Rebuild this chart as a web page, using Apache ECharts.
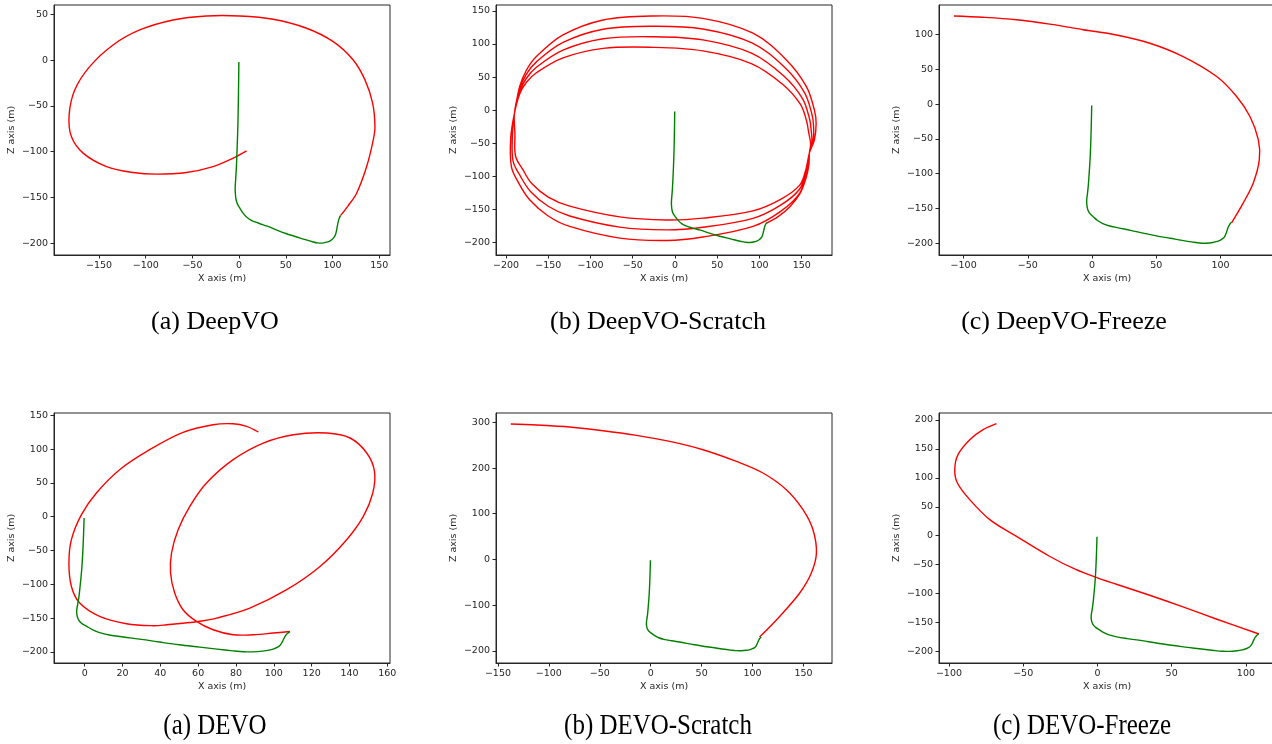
<!DOCTYPE html>
<html>
<head>
<meta charset="utf-8">
<script src="https://cdn.jsdelivr.net/npm/echarts@6/dist/echarts.min.js"></script>
<style>
html, body { margin: 0; padding: 0; background: #fff; }
#main { width: 1272px; height: 744px; }
</style>
</head>
<body>
<div id="main"></div>
<script>
// ground truth, same in every panel  [x, z]
var gtPath = [[-0.3,-2],[-0.5,-20],[-0.9,-48],[-1.3,-68],[-1.7,-83],[-2.3,-100],[-3,-118],[-3.7,-130],[-4.2,-138],
  [-4.1,-145],[-3.5,-151],[-2.6,-155],[-1.2,-158.5],[0.9,-162],[4,-167],[7.9,-171.5],[13,-175],[20.3,-178],
  [30,-181.5],[39.7,-185.5],[50,-189.5],[60.9,-193],[70,-196],[78.5,-198.5],[84,-199.8],[89,-200],[94,-199],
  [97.5,-197.5],[100,-195.5],[102,-193],[103.2,-190.5],[104.3,-186],[105.2,-181],[106.2,-176],[107.3,-172.5],[108.5,-170]];

// (a) DeepVO
var deepvoPath = [[108.5,-170],[116,-160],[125.8,-145.4],[136.5,-116.3],[143.6,-87.1],[145.4,-72.6],[142.9,-47],
  [134.7,-21.5],[122.1,0.3],[100.7,20.3],[72.2,35],[36.4,44.8],[0.75,48.4],[-35,48.4],[-70.7,44],[-106.4,33.1],
  [-135,16.7],[-160,-7],[-176,-32.5],[-182,-59.8],[-179.6,-83.5],[-167,-101.6],[-142,-116.3],[-113.6,-122.8],
  [-88.5,-124.6],[-56.4,-122.8],[-27.9,-116.3],[-6.4,-107.1],[7.9,-99.1]];

// (b) DeepVO-Scratch, four loops
var scratchPath = [[108,-171],[122,-161],[136,-146],[148,-126],[155,-103],[158.5,-82],[159,-65],
  [160.5,-50.7],[158,-32.5],[156,-17.8],[148.5,8.7],[127.3,39.2],[90.3,70.5],[33,89.6],[-26,95],[-85,93.4],
  [-132.5,79],[-164,56.6],[-176,41.8],[-183.8,24.4],[-190,-5],
  [-194.4,-42.3],[-193.6,-85.2],[-185,-110],[-172,-135.5],[-150,-160],[-124.6,-175.8],[-65.4,-193.4],[-10,-197],
  [33,-191.8],[92.3,-175.8],[125,-153],[147.6,-125.4],[155,-95],[159,-65],
  [162,-48.8],[161,-28.3],[159,-11.8],[150.7,17.8],[128.8,51.6],[91.1,85.9],[33,106.2],[-26,111],[-85,107.9],
  [-132.5,90.7],[-164,64.8],[-176,47.9],[-183.8,28.2],[-190,-5],
  [-192.4,-38.5],[-191.6,-77.2],[-183,-99.7],[-171,-122.9],[-150,-145.3],[-124.6,-160],[-65.4,-176.8],[-10,-181],
  [33,-177.1],[92.3,-163.7],[125,-143.7],[147.6,-119.2],[155,-92],[159,-65],
  [163.5,-46.8],[164,-24.1],[162,-5.8],[153.1,26.9],[130.3,64],[91.7,101.4],[33,122.8],[-26,126.9],[-85,122.4],
  [-132.5,102.4],[-164,73],[-176,54.1],[-183.8,32],[-190,-5],
  [-189.4,-35],[-188.6,-69.7],[-180,-90],[-169.5,-111],[-150,-131.5],[-124.6,-145.1],[-65.4,-161.3],[-10,-166],
  [33,-163.2],[92.3,-152.3],[125,-134.9],[147.6,-113.4],[155,-89.1],[159,-65],
  [165,-45],[167,-20],[165,0],[155.5,35.7],[131.8,76],[92.3,116.3],[33,138.8],[-26,142.4],[-85,136.4],
  [-132.5,113.7],[-164,81],[-176,60],[-183.8,35.7],[-190,-5],[-191.5,-15]];

// (c) DeepVO-Freeze
var freezePath = [[108.6,-170.7],[117.7,-142],[125.5,-113.3],[130.2,-79.9],[129.4,-51.2],[122.9,-17.8],[112.5,10.9],
  [97,39.6],[70.9,68.3],[45,87.5],[19,99.4],[-7,107],[-33,115],[-58.9,121.2],[-85,124.8],[-107.6,126.7]];

// (a) DEVO
var devoPath = [[108.5,-169.8],[99.7,-172.2],[89,-174.7],[78.5,-174.7],[67.9,-167.3],[59.1,-155],[52,-137.7],
  [47.6,-113],[45.4,-83.4],[45.9,-53.8],[49.4,-19.2],[55.6,15.3],[64.4,49.8],[78.5,84.4],[94.4,109],[110.3,121.4],
  [128,123.9],[140.3,116.5],[149.1,94.3],[153.2,67.1],[152.3,35.1],[147.3,0.4],[138.5,-34],[124.4,-73.6],
  [106.8,-108],[87.3,-135.2],[69.7,-150],[60,-155],[43.3,-159.9],[36.2,-161.3],[22.1,-158.4],[7.9,-147.5],
  [-2.6,-127.8],[-7,-103.2],[-8.3,-68.5],[-7,-34],[-1.7,3],[6.2,35.1],[18.5,69.6],[34.4,99.2],[52,124.8],
  [67.9,136.2],[78.5,137.6],[85.6,133.7],[91.8,125.4]];

// (b) DEVO-Scratch
var devoScratchPath = [[106.9,-170],[126.6,-124.8],[146.3,-73.6],[157.7,-29.8],[162.7,14],[159.3,65],[149.5,108.8],
  [133.2,152.6],[110.2,189.2],[84.1,214.6],[51.3,240.2],[18.7,258.4],[-14,271.5],[-46.8,281.8],[-79.5,289.9],
  [-112.2,294.3],[-137.4,296.5]];

// (c) DEVO-Freeze
var devoFreezePath = [[108.8,-170],[80,-144],[57.6,-123],[35.2,-103],[12.8,-84],[0,-73],[-15,-58],[-32,-36],
  [-54.5,-1.2],[-72.5,27.7],[-86,62.3],[-94.3,91.1],[-96.1,114.1],[-93.9,140.1],[-86,166],[-77,183.3],[-68,193.7]];

var captions = ['(a) DeepVO', '(b) DeepVO-Scratch', '(c) DeepVO-Freeze', '(a) DEVO', '(b) DEVO-Scratch', '(c) DEVO-Freeze'];

var xTicks = [
  [-150,-100,-50,0,50,100,150],
  [-200,-150,-100,-50,0,50,100,150],
  [-100,-50,0,50,100],
  [0,20,40,60,80,100,120,140,160],
  [-150,-100,-50,0,50,100,150],
  [-100,-50,0,50,100]
];
var zTicks = [
  [-200,-150,-100,-50,0,50],
  [-200,-150,-100,-50,0,50,100,150],
  [-200,-150,-100,-50,0,50,100],
  [-200,-150,-100,-50,0,50,100,150],
  [-200,-100,0,100,200,300],
  [-200,-150,-100,-50,0,50,100,150,200]
];

var panels = [
  {path: deepvoPath,      xr: [-198.2,161.5], zr: [-213,60.4],   left: 54,  top: 5,   cx: 215, cy: 322},
  {path: scratchPath,     xr: [-211.8,185.8], zr: [-219,159],    left: 496, top: 5,   cx: 658, cy: 322},
  {path: freezePath,      xr: [-119.2,142.4], zr: [-217,142.5],  left: 939, top: 5,   cx: 1064, cy: 322},
  {path: devoPath,        xr: [-16.2,161.4],  zr: [-216.5,153.5],left: 54,  top: 413, cx: 215, cy: 726},
  {path: devoScratchPath, xr: [-151.9,178],   zr: [-226.8,320.6],left: 496, top: 413, cx: 658, cy: 726},
  {path: devoFreezePath,  xr: [-106.7,119.6], zr: [-220.1,212.1],left: 939, top: 413, cx: 1082, cy: 726}
];

function fmt(v) {
  return String(v).replace('-', '\u2212');
}

// one smooth polyline per path, placed through the panel's own axes
function trackSeries(i, path, color, z) {
  return {
    type: 'custom', coordinateSystem: 'cartesian2d',
    xAxisIndex: i, yAxisIndex: i, data: path, z: z, clip: true,
    renderItem: function (params, api) {
      if (params.dataIndex !== 0) return null;
      var pts = path.map(function (d) { return api.coord(d); });
      return {
        type: 'polyline',
        shape: {points: pts, smooth: 0.35},
        style: {stroke: color, lineWidth: 1.4, fill: null}
      };
    }
  };
}

var ink = '#262626';
var nameFont = {fontFamily: 'DejaVu Sans', fontSize: 9.5, color: ink};

var grids = [], xAxes = [], yAxes = [], series = [], texts = [];

panels.forEach(function (p, i) {
  grids.push({
    left: p.left, top: p.top, width: 336, height: 250,
    show: true, borderColor: ink, borderWidth: 1,
    outerBoundsMode: 'none'
  });
  xAxes.push({
    type: 'value', gridIndex: i, min: p.xr[0], max: p.xr[1],
    name: 'X axis (m)', nameLocation: 'middle', nameGap: 19,
    nameTextStyle: nameFont,
    axisLine: {show: true, onZero: false, lineStyle: {color: ink, width: 1}},
    axisTick: {show: true, length: 3.5, customValues: xTicks[i], lineStyle: {color: ink}},
    axisLabel: {customValues: xTicks[i], formatter: fmt, margin: 6,
      fontFamily: 'DejaVu Sans', fontSize: 9.5, color: ink},
    splitLine: {show: false}
  });
  yAxes.push({
    type: 'value', gridIndex: i, min: p.zr[0], max: p.zr[1],
    name: 'Z axis (m)', nameLocation: 'middle', nameGap: 37, nameRotate: 90,
    nameTextStyle: nameFont,
    axisLine: {show: true, onZero: false, lineStyle: {color: ink, width: 1}},
    axisTick: {show: true, length: 3.5, customValues: zTicks[i], lineStyle: {color: ink}},
    axisLabel: {customValues: zTicks[i], formatter: fmt, margin: 6,
      fontFamily: 'DejaVu Sans', fontSize: 9.5, color: ink},
    splitLine: {show: false}
  });
  series.push(trackSeries(i, p.path, '#ff0000', 2));
  series.push(trackSeries(i, gtPath, '#008000', 3));
  // bottom row captions are set a little taller and narrower in the figure
  texts.push({
    type: 'text', x: p.cx, y: p.cy,
    scaleX: i < 3 ? 1 : 0.96, scaleY: i < 3 ? 1 : 1.1,
    style: {text: captions[i], font: '26px "Liberation Serif"', fill: '#000',
      align: 'center', verticalAlign: 'middle'}
  });
});

var chart = echarts.init(document.getElementById('main'));
chart.setOption({
  animation: false,
  backgroundColor: '#fff',
  grid: grids,
  xAxis: xAxes,
  yAxis: yAxes,
  series: series,
  graphic: texts
});
</script>
</body>
</html>
